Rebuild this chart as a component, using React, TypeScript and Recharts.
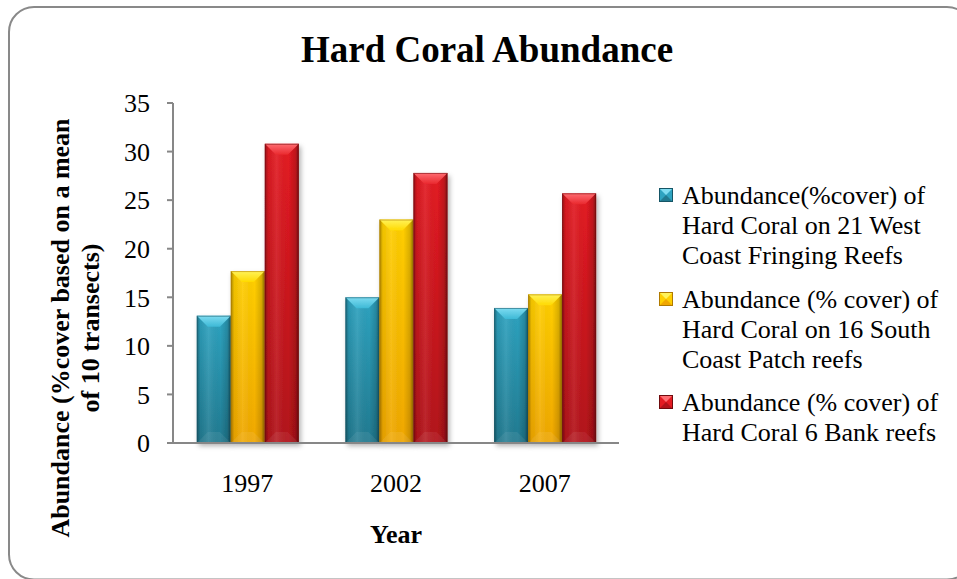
import React from 'react';
import { BarChart, Bar, XAxis, YAxis, Legend } from 'recharts';

// Survey years and mean hard coral cover (%) per reef group
const years = ['1997', '2002', '2007'];
const westCoastFringing = [13.1, 15.0, 13.9];
const southCoastPatch = [17.7, 23.0, 15.3];
const bankReefs = [30.8, 27.8, 25.7];
const yTicks = [0, 5, 10, 15, 20, 25, 30, 35];

const seriesKeys = ['west', 'south', 'bank'];
const seriesNames = [
  'Abundance(%cover) of Hard Coral on 21 West Coast Fringing Reefs',
  'Abundance (% cover) of Hard Coral on 16 South Coast Patch reefs',
  'Abundance (% cover) of Hard Coral 6 Bank reefs',
];
const legendLines = [
  ['Abundance(%cover) of', 'Hard Coral on 21 West', 'Coast Fringing Reefs'],
  ['Abundance (% cover) of', 'Hard Coral on 16 South', 'Coast Patch reefs'],
  ['Abundance (% cover) of', 'Hard Coral 6 Bank reefs'],
];

const data = years.map((year, i) => ({
  year,
  west: westCoastFringing[i],
  south: southCoastPatch[i],
  bank: bankReefs[i],
}));

const FONT = "'Liberation Serif', 'Times New Roman', serif";
const AXIS_GREY = '#878787';

type Palette = {
  bevelTop: string;
  bevelBottom: string;
  bodyTop: string;
  bodyBottom: string;
  edge: string;
};

const PALETTES: Record<string, Palette> = {
  west: { bevelTop: '#7fdcf1', bevelBottom: '#3db9d6', bodyTop: '#2ea3c0', bodyBottom: '#217a90', edge: '#155566' },
  south: { bevelTop: '#fff35a', bevelBottom: '#ffd900', bodyTop: '#ffcf00', bodyBottom: '#f0a700', edge: '#b07a00' },
  bank: { bevelTop: '#ff6d72', bevelBottom: '#e9282e', bodyTop: '#e31b22', bodyBottom: '#b2131a', edge: '#6f0b0e' },
};

// Bar drawn with a bevelled top face and darker side edges
function BevelBar(props: any) {
  const { x, y, width: w, height: h, seriesKey } = props;
  if (!h || h <= 0 || !w) return null;
  const b = Math.min(11, w / 2, h / 2);
  const pal = PALETTES[seriesKey];
  const top = `${x},${y} ${x + w},${y} ${x + w - b},${y + b} ${x + b},${y + b}`;
  const bottom = `${x},${y + h} ${x + w},${y + h} ${x + w - b},${y + h - b} ${x + b},${y + h - b}`;
  return (
    <g filter="url(#barShadow)">
      <rect x={x} y={y} width={w} height={h} fill={`url(#body-${seriesKey})`} />
      <rect x={x} y={y} width={w} height={h} fill="url(#edgeShade)" />
      <polygon points={bottom} fill="rgba(255,255,255,0.07)" />
      <polygon points={top} fill={`url(#bevel-${seriesKey})`} />
      <rect
        x={x + 0.5}
        y={y + 0.5}
        width={w - 1}
        height={h - 1}
        fill="none"
        stroke={pal.edge}
        strokeOpacity={0.55}
        strokeWidth={1}
      />
    </g>
  );
}

function LegendMarker({ pal }: { pal: Palette }) {
  return (
    <svg width={14} height={14} style={{ position: 'absolute', left: 0, top: 7 }}>
      <rect x={0} y={0} width={14} height={14} fill={pal.bodyTop} />
      <polygon points="0,14 14,14 7,7" fill={pal.bodyBottom} />
      <polygon points="0,0 14,0 7,7" fill={pal.bevelTop} />
      <rect x={0.5} y={0.5} width={13} height={13} fill="none" stroke={pal.edge} strokeWidth={1} />
    </svg>
  );
}

function renderLegend(props: any) {
  const payload = [...(props.payload || [])].sort(
    (a: any, b: any) => seriesKeys.indexOf(a.dataKey) - seriesKeys.indexOf(b.dataKey)
  );
  return (
    <div style={{ fontFamily: FONT, fontSize: 26, lineHeight: '30px', color: '#000' }}>
      {payload.map((entry: any) => {
        const idx = seriesKeys.indexOf(entry.dataKey);
        return (
          <div key={entry.dataKey} style={{ position: 'relative', marginBottom: 13.5 }}>
            <LegendMarker pal={PALETTES[entry.dataKey]} />
            <div style={{ paddingLeft: 23, whiteSpace: 'nowrap' }}>
              {legendLines[idx].map((line) => (
                <div key={line}>{line}</div>
              ))}
            </div>
          </div>
        );
      })}
    </div>
  );
}

function renderYearLabel(props: any) {
  const vb = props.viewBox || {};
  return (
    <text
      x={vb.x + vb.width / 2}
      y={vb.y + 100}
      textAnchor="middle"
      fontFamily={FONT}
      fontSize={26}
      fontWeight="bold"
      fill="#000"
    >
      Year
    </text>
  );
}

export default function App() {
  return (
    <div
      style={{
        position: 'absolute',
        left: 0,
        top: 0,
        width: 957,
        height: 579,
        background: '#fff',
        overflow: 'hidden',
        fontFamily: FONT,
      }}
    >
      <BarChart
        width={957}
        height={579}
        data={data}
        margin={{ top: 103, right: 338, left: 103, bottom: 106 }}
        barCategoryGap="16%"
        barGap={0}
      >
        <defs>
          {seriesKeys.map((k) => (
            <linearGradient key={`body-${k}`} id={`body-${k}`} x1="0" y1="0" x2="0" y2="1">
              <stop offset="0" stopColor={PALETTES[k].bodyTop} />
              <stop offset="1" stopColor={PALETTES[k].bodyBottom} />
            </linearGradient>
          ))}
          {seriesKeys.map((k) => (
            <linearGradient key={`bevel-${k}`} id={`bevel-${k}`} x1="0" y1="0" x2="0" y2="1">
              <stop offset="0" stopColor={PALETTES[k].bevelTop} />
              <stop offset="1" stopColor={PALETTES[k].bevelBottom} />
            </linearGradient>
          ))}
          <linearGradient id="edgeShade" x1="0" y1="0" x2="1" y2="0">
            <stop offset="0" stopColor="#000" stopOpacity={0.35} />
            <stop offset="0.1" stopColor="#000" stopOpacity={0.06} />
            <stop offset="0.35" stopColor="#fff" stopOpacity={0.08} />
            <stop offset="0.7" stopColor="#000" stopOpacity={0} />
            <stop offset="0.9" stopColor="#000" stopOpacity={0.15} />
            <stop offset="1" stopColor="#000" stopOpacity={0.45} />
          </linearGradient>
          <filter id="barShadow" x="-30%" y="-10%" width="160%" height="130%">
            <feDropShadow dx="2" dy="3" stdDeviation="2.5" floodColor="#000" floodOpacity="0.3" />
          </filter>
        </defs>

        <rect x={9} y={7} width={963} height={572.5} rx={25} ry={25} fill="none" stroke="#898989" strokeWidth={2} />

        <text x={487} y={62} textAnchor="middle" fontFamily={FONT} fontSize={37} fontWeight="bold" fill="#000">
          Hard Coral Abundance
        </text>

        <g fontFamily={FONT} fontSize={26} fontWeight="bold" fill="#000">
          <text transform="translate(69,328) rotate(-90)" textAnchor="middle">
            Abundance (%cover based on a mean
          </text>
          <text transform="translate(99,328) rotate(-90)" textAnchor="middle">
            of 10 transects)
          </text>
        </g>

        <XAxis
          dataKey="year"
          height={30}
          tickLine={false}
          tickSize={0}
          tickMargin={31}
          axisLine={{ stroke: AXIS_GREY, strokeWidth: 2 }}
          tick={{ fill: '#000', fontSize: 26, fontFamily: FONT }}
          label={{ content: renderYearLabel }}
        />
        <YAxis
          domain={[0, 35]}
          ticks={yTicks}
          interval={0}
          width={70}
          tickSize={6}
          tickMargin={17}
          axisLine={{ stroke: AXIS_GREY, strokeWidth: 2 }}
          tickLine={{ stroke: AXIS_GREY, strokeWidth: 2 }}
          tick={{ fill: '#000', fontSize: 26, fontFamily: FONT }}
        />

        {seriesKeys.map((k, i) => (
          <Bar
            key={k}
            dataKey={k}
            name={seriesNames[i]}
            fill={PALETTES[k].bodyTop}
            isAnimationActive={false}
            shape={(p: any) => <BevelBar {...p} seriesKey={k} />}
          />
        ))}

        <Legend
          layout="horizontal"
          verticalAlign="middle"
          align="center"
          wrapperStyle={{ left: 659, top: 181, width: 295 }}
          content={renderLegend}
        />
      </BarChart>
    </div>
  );
}
